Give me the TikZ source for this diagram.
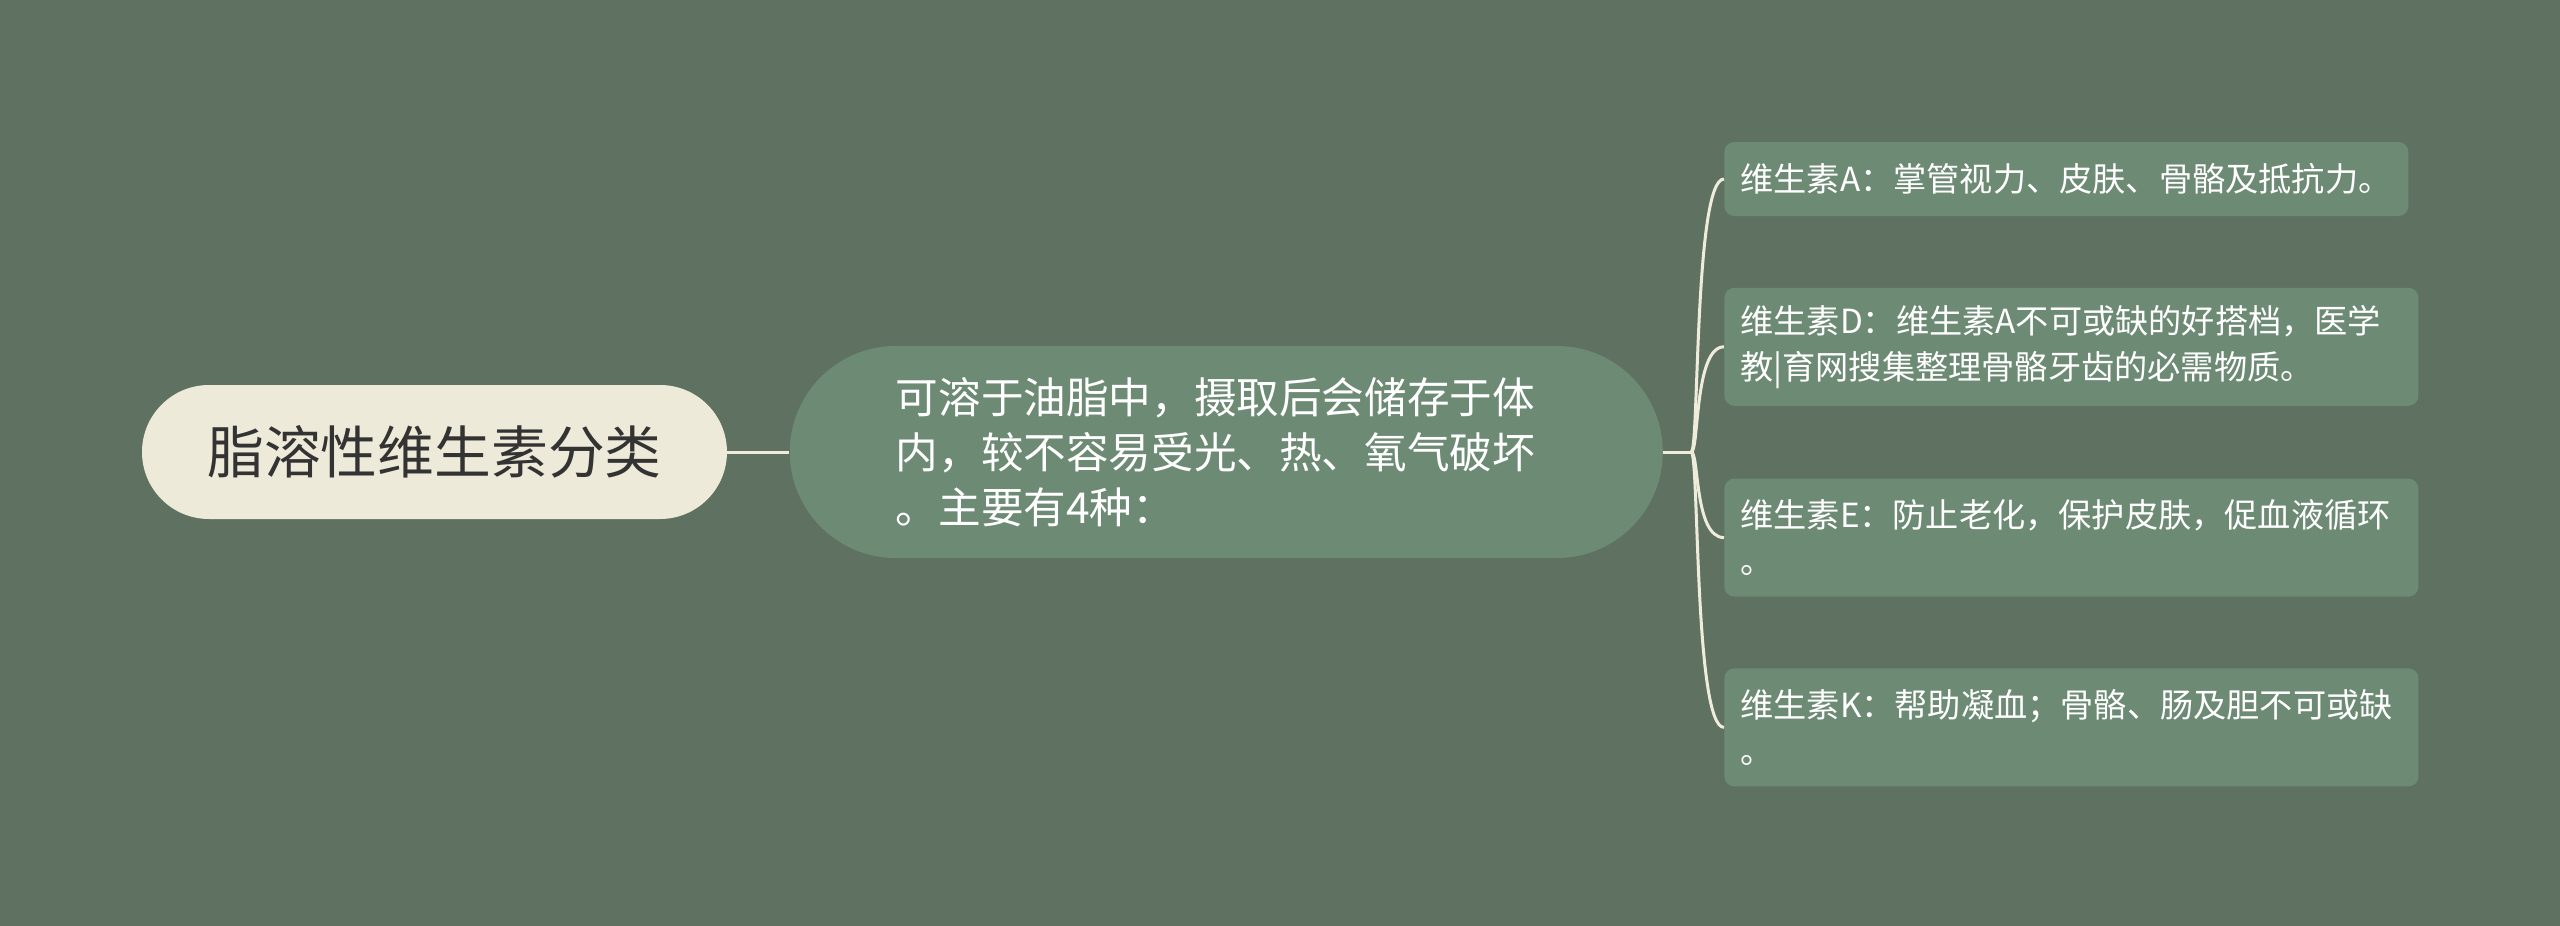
\documentclass[tikz,border=0pt]{standalone}
\usepackage{fontspec}
\setmainfont{Noto Sans CJK SC}
\usetikzlibrary{positioning}

\definecolor{bgcol}{HTML}{5F7161}
\definecolor{boxcol}{HTML}{6D8B74}
\definecolor{rootcol}{HTML}{EEEAD9}
\definecolor{linecol}{HTML}{F0ECDC}
\definecolor{darktext}{HTML}{333333}

\begin{document}
\begin{tikzpicture}[
    x=0.5pt, y=-0.5pt,
    every node/.style={inner sep=0pt},
    rootbox/.style={fill=rootcol, text=darktext, rounded corners=33.5pt, minimum width=292.5pt, minimum height=67pt, font=\fontsize{28.4}{34}\selectfont},
    midbox/.style={fill=boxcol, text=white, rounded corners=53pt, inner xsep=53pt, text width=330.5pt, minimum height=106pt, align=left, font=\fontsize{21.3}{27.5}\selectfont},
    leafbox/.style={fill=boxcol, text=white, rounded corners=5pt, inner xsep=8pt, text width=331pt, minimum height=59pt, align=left, anchor=west, font=\fontsize{16.6}{23}\selectfont},
    link/.style={draw=linecol, line width=1.5pt}
]

% 背景
\fill[bgcol] (0,0) rectangle (2560,926);

% 根节点与中间节点
\node[rootbox] (root) at (434.5,452) {脂溶性维生素分类};
\node[midbox, right=31pt of root] (mid) {可溶于油脂中，摄取后会储存于体\\内，较不容易受光、热、氧气破坏\\。主要有4种：};
\coordinate[right=14pt of mid.east] (hub);

% 右侧四个维生素
\node[leafbox, text width=326pt, minimum height=37pt] (vitA) at (1724,179) {维生素A：掌管视力、皮肤、骨骼及抵抗力。};
\node[leafbox, below=35.5pt of vitA.south west, anchor=north west] (vitD) {维生素D：维生素A不可或缺的好搭档，医学\\教|育网搜集整理骨骼牙齿的必需物质。};
\node[leafbox, below=36pt of vitD.south west, anchor=north west] (vitE) {维生素E：防止老化，保护皮肤，促血液循环\\。};
\node[leafbox, below=35.5pt of vitE.south west, anchor=north west] (vitK) {维生素K：帮助凝血；骨骼、肠及胆不可或缺\\。};

% 连接线
\draw[link] (root) -- (mid);
\draw[link] (mid) -- (hub);
\foreach \leaf in {vitA,vitD,vitE,vitK}
    \draw[link] (hub) .. controls +(8,0) and +(-30,0) .. (\leaf.west);

\end{tikzpicture}
\end{document}
